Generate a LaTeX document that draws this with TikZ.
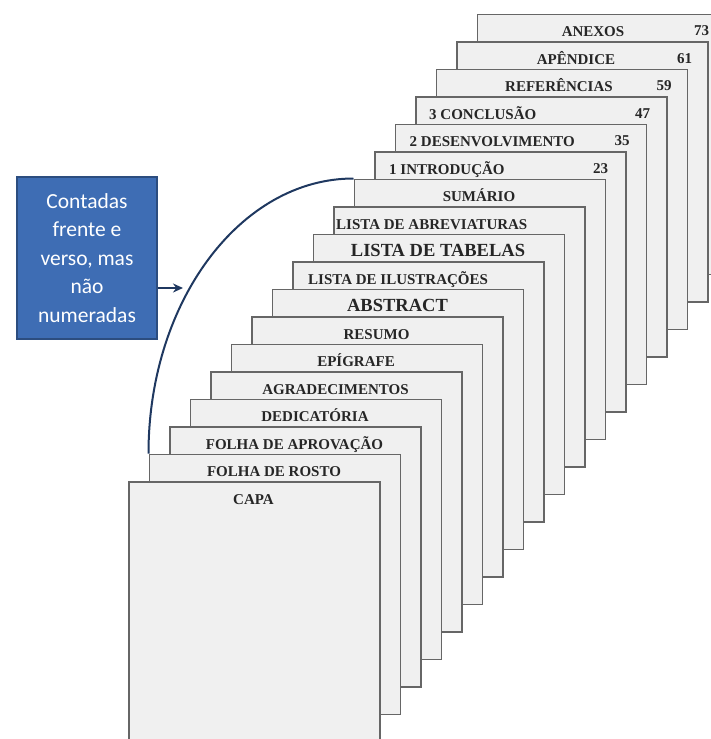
\documentclass[tikz,border=0pt]{standalone}
\usepackage{fontspec}
\setmainfont{Liberation Serif}
\newfontfamily\calibri{Carlito}
\usetikzlibrary{arrows.meta,positioning,calc}
\definecolor{azulcaixa}{RGB}{62,109,180}
\definecolor{azulborda}{RGB}{44,77,127}
\definecolor{marinho}{RGB}{31,56,96}
\tikzset{
  folha/.style={draw=black!60, fill=black!6, line width=1.6pt, inner sep=0pt,
    minimum width=251pt, minimum height=260pt, anchor=north west},
  titulo/.style={font=\bfseries\fontsize{15}{16}\selectfont, text=black!85, inner sep=0pt},
  caixa/.style={draw=azulborda, fill=azulcaixa, line width=1.2pt, text=white, align=center,
    minimum width=140pt, minimum height=162pt, font=\calibri\fontsize{21.5}{28.5}\selectfont},
  arco/.style={draw=marinho, line width=2pt},
  arrow/.style={-{Stealth[length=10pt, width=9pt]}, line width=2pt},
}
\newcommand{\grande}[1]{{\fontsize{18.5}{20}\selectfont #1}}

\begin{document}
\begin{tikzpicture}[x=1pt,y=-1pt]
  \useasboundingbox (0,0) rectangle (711,739);
  % folhas, de tras para a frente
  \foreach \i/\ancora/\dx/\texto in {
    17/base/116.5/ANEXOS,
    16/base/120/APÊNDICE,
    15/base/123.5/REFERÊNCIAS,
    14/base west/14/3 CONCLUSÃO,
    13/base west/15/2 DESENVOLVIMENTO,
    12/base west/15/1 INTRODUÇÃO,
    11/base/125.5/SUMÁRIO,
    10/base west/3/LISTA DE ABREVIATURAS,
    9/base/125.5/\grande{LISTA DE TABELAS},
    8/base west/16/LISTA DE ILUSTRAÇÕES,
    7/base/126/\grande{ABSTRACT},
    6/base/125.5/RESUMO,
    5/base/125.5/EPÍGRAFE,
    4/base/125.5/AGRADECIMENTOS,
    3/base/125.5/DEDICATÓRIA,
    2/base/125.5/FOLHA DE APROVAÇÃO,
    1/base/125.5/FOLHA DE ROSTO,
    0/base/125.5/CAPA}{
    \node[folha] (p\i) at ({128+20.5*\i},{481-27.5*\i}) {};
    \node[titulo, anchor=\ancora] (t\i) at ([xshift=\dx pt, yshift=-23pt]p\i.north west) {\texto};
  }
  % paginas numeradas
  \foreach \i/\dx/\num in {17/27.5/73,16/24/61,15/24/59,14/25/47,13/25/35,12/26/23}
    \node[titulo, anchor=base] (n\i) at ([xshift=-\dx pt, yshift=-22pt]p\i.north east) {\num};

  \node[caixa] (nota) at (87,258) {Contadas\\frente e\\verso, mas\\não\\numeradas};
  \coordinate (ponta) at (183,288);
  \draw[arrow, marinho] (nota.east |- ponta) -- (ponta);

  \coordinate (canto) at (p1.north west |- p11.north west);
  \draw[arco] (p1.north west) .. controls ($(p1.north west)!0.552!(canto)$)
    and ($(p11.north west)!0.552!(canto)$) .. (p11.north west);
\end{tikzpicture}
\end{document}
